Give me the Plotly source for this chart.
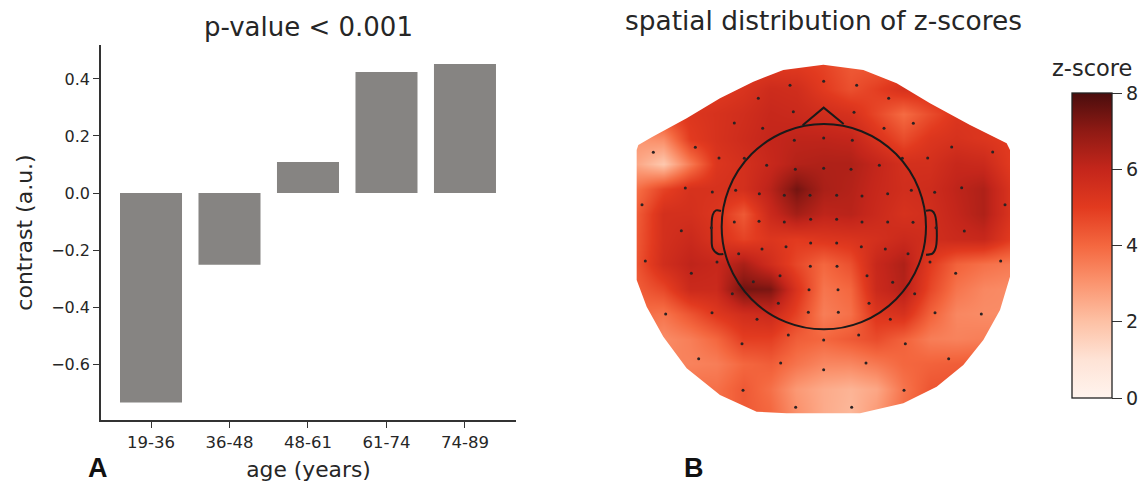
import plotly.graph_objects as go

W, H = 1142, 486

# ---- Panel A data
age_groups = ["19-36", "36-48", "48-61", "61-74", "74-89"]
contrast = [-0.735, -0.252, 0.109, 0.424, 0.452]
contrast_ticks = [-0.6, -0.4, -0.2, 0.0, 0.2, 0.4]

# ---- Panel B data (topomap plane units, y downwards)
grid_x = [50, 130, 210, 290, 370, 450, 530, 610, 690, 770, 850, 930, 1010, 1090, 1170]
grid_y = [40, 115, 190, 265, 340, 415, 490, 565, 640, 715, 790, 865, 940, 1015, 1090]
z_scores = [
    [5.0, 5.0, 5.0, 5.0, 5.0, 5.0, 5.0, 4.8, 4.3, 4.3, 4.5, 5.0, 5.0, 5.0, 5.0],
    [5.0, 5.0, 5.0, 5.0, 5.3, 5.7, 5.6, 5.0, 4.5, 4.9, 5.4, 5.4, 5.4, 5.4, 5.4],
    [4.2, 4.8, 5.2, 5.4, 5.6, 5.9, 5.8, 5.6, 5.4, 4.7, 3.9, 4.6, 5.2, 5.2, 5.2],
    [3.0, 3.2, 5.0, 5.4, 5.7, 6.0, 6.1, 6.1, 6.0, 5.3, 4.6, 5.2, 5.4, 5.2, 5.0],
    [2.6, 1.8, 3.6, 5.2, 5.5, 5.9, 6.3, 6.4, 6.4, 6.0, 5.5, 5.5, 5.9, 5.8, 5.0],
    [3.8, 4.8, 5.4, 5.4, 5.5, 6.2, 7.4, 6.5, 6.3, 5.9, 5.6, 5.7, 6.1, 6.4, 5.3],
    [4.2, 5.5, 5.5, 5.2, 4.3, 5.8, 6.6, 6.1, 6.2, 5.8, 5.4, 5.6, 6.0, 6.4, 5.3],
    [4.3, 5.5, 5.8, 5.3, 4.8, 5.2, 5.0, 5.2, 5.3, 5.5, 5.8, 5.6, 5.8, 5.9, 5.0],
    [4.4, 5.6, 6.1, 5.9, 6.5, 5.6, 4.7, 4.0, 4.5, 5.9, 6.4, 5.0, 4.1, 3.8, 3.6],
    [4.2, 4.7, 5.8, 5.8, 7.4, 7.3, 5.3, 3.7, 4.0, 5.8, 6.3, 4.7, 3.7, 3.3, 3.2],
    [3.9, 3.7, 4.4, 5.1, 5.6, 5.8, 4.8, 3.5, 3.8, 5.2, 5.4, 4.1, 3.3, 3.2, 3.2],
    [3.6, 3.2, 3.5, 4.0, 4.9, 4.9, 4.2, 4.0, 4.3, 4.6, 4.1, 3.5, 3.4, 3.5, 3.5],
    [3.6, 3.4, 3.4, 3.5, 4.0, 4.2, 3.7, 3.3, 3.3, 3.6, 4.0, 4.1, 4.2, 4.3, 4.3],
    [3.8, 3.8, 3.8, 3.8, 4.3, 3.8, 2.9, 2.5, 2.3, 2.6, 3.7, 4.4, 4.5, 4.5, 4.5],
    [3.8, 3.8, 3.8, 3.8, 4.3, 4.0, 3.1, 2.5, 2.2, 2.9, 3.9, 4.5, 4.5, 4.5, 4.5],
]
sensor_x = [510, 611, 710, 415, 806, 520, 702, 343, 428, 792, 880, 523, 611, 697, 226, 995, 100, 1118,
            297, 373, 847, 923, 440, 526, 611, 693, 778, 196, 277, 347, 418, 493, 570, 650, 726, 803,
            874, 944, 1025, 66, 1155, 343, 417, 493, 572, 650, 726, 803, 879, 184, 274, 948, 1033,
            426, 498, 572, 650, 724, 796, 356, 864, 76, 291, 930, 1142, 571, 651, 214, 1007, 480, 741,
            400, 818, 567, 654, 337, 884, 475, 747, 137, 276, 565, 655, 945, 1084, 411, 811, 505, 716,
            611, 366, 856, 236, 986, 482, 738, 611, 369, 852, 527, 695]
sensor_y = [106, 94, 106, 145, 145, 185, 187, 219, 235, 235, 220, 271, 264, 271, 292, 291, 307, 306,
            324, 325, 325, 324, 346, 358, 355, 358, 346, 414, 426, 421, 431, 436, 436, 436, 438, 431,
            421, 427, 413, 464, 464, 516, 514, 516, 508, 508, 516, 516, 517, 542, 533, 533, 543,
            597, 590, 579, 579, 590, 597, 611, 611, 633, 636, 636, 633, 649, 649, 670, 670, 677, 677,
            695, 697, 719, 719, 731, 731, 760, 760, 792, 788, 787, 787, 788, 792, 808, 808, 855, 855,
            870, 881, 881, 926, 926, 939, 939, 959, 1021, 1021, 1072, 1072]
outline_x = [55, 95, 200, 300, 400, 490, 610, 730, 830, 930, 1050, 1160, 1170, 1170, 1140, 1090, 1030,
             950, 850, 720, 500, 410, 300, 200, 130, 80, 50, 50]
outline_y = [285, 262, 205, 145, 95, 60, 44, 60, 100, 160, 225, 280, 300, 680, 780, 870, 945,
             1010, 1060, 1090, 1090, 1085, 1035, 955, 860, 770, 690, 300]
nose_x = [548, 611, 671]
nose_y = [226, 173, 222]
ear_left_x = [303, 288, 278, 275, 278, 295, 310]
ear_left_y = [483, 481, 495, 560, 595, 612, 612]
ear_right_x = [918, 935, 945, 948, 938, 918]
ear_right_y = [482, 482, 495, 590, 610, 614]
head_x0, head_x1, head_y0, head_y1 = 305, 918, 222, 838

reds = [[0, "#fff4ee"], [0.125, "#fee3d6"], [0.25, "#fdc1a5"], [0.375, "#fb9570"], [0.5, "#f4673f"],
        [0.625, "#e23a1f"], [0.75, "#c4261b"], [0.875, "#8f1a14"], [1, "#4a0d0d"]]
INK = "#262626"
FONT = "DejaVu Sans"

def fx(px):
    return px / W

def fy(px):
    return 1 - px / H

fig = go.Figure()
fig.add_trace(go.Bar(x=list(range(5)), y=contrast, width=0.79, marker=dict(color="#868482", line_width=0),
                     xaxis="x", yaxis="y", showlegend=False))
fig.add_trace(go.Heatmap(x=grid_x, y=grid_y, z=z_scores, zmin=0, zmax=8, zsmooth="best", colorscale=reds,
                         xaxis="x2", yaxis="y2", showlegend=False,
                         colorbar=dict(x=fx(1072), xanchor="left", y=fy(93), yanchor="top",
                                       len=305 / H, lenmode="fraction", thickness=40, thicknessmode="pixels",
                                       xpad=0, ypad=0, outlinecolor="#222", outlinewidth=1.3,
                                       tickvals=[0, 2, 4, 6, 8], ticks="outside", ticklen=10, tickwidth=1,
                                       tickcolor="#333", tickfont=dict(family=FONT, size=19, color=INK))))
line = dict(color="#1a1a1a", width=2)
fig.add_trace(go.Scatter(x=nose_x, y=nose_y, mode="lines", line=line, xaxis="x2", yaxis="y2", showlegend=False))
fig.add_trace(go.Scatter(x=ear_left_x, y=ear_left_y, mode="lines", line=dict(shape="spline", **line),
                         xaxis="x2", yaxis="y2", showlegend=False))
fig.add_trace(go.Scatter(x=ear_right_x, y=ear_right_y, mode="lines", line=dict(shape="spline", **line),
                         xaxis="x2", yaxis="y2", showlegend=False))
fig.add_trace(go.Scatter(x=sensor_x, y=sensor_y, mode="markers", marker=dict(color="#2b2222", size=3),
                         xaxis="x2", yaxis="y2", showlegend=False))

# white mask around the interpolated field
mask = "M 0 0 L 1200 0 L 1200 1110 L 0 1110 Z M " + " L ".join(f"{a} {b}" for a, b in zip(outline_x, outline_y)) + " Z"
shapes = [
    dict(type="path", path=mask, xref="x2", yref="y2", fillcolor="white", fillrule="evenodd",
         line_width=0, layer="above"),
    dict(type="circle", xref="x2", yref="y2", x0=head_x0, x1=head_x1, y0=head_y0, y1=head_y1,
         line=line, fillcolor="rgba(0,0,0,0)", layer="above"),
]

def label(text, x, y, size, family=FONT, color=INK):
    return dict(text=text, x=fx(x), y=fy(y), xref="paper", yref="paper", showarrow=False,
                xanchor="center", yanchor="middle", font=dict(family=family, size=size, color=color))

annotations = [
    label("p-value < 0.001", 308, 27, 26),
    label("spatial distribution of z-scores", 823, 20, 26.4),
    label("z-score", 1092, 68, 22.5),
    label("<b>A</b>", 98, 468, 27, "Liberation Sans", "#111"),
    label("<b>B</b>", 694, 468, 27, "Liberation Sans", "#111"),
]

fig.update_layout(
    width=W, height=H, autosize=False, margin=dict(l=0, r=0, t=0, b=0),
    paper_bgcolor="white", plot_bgcolor="white", showlegend=False,
    xaxis=dict(domain=[fx(101), fx(516)], range=[-0.637, 4.65], tickvals=list(range(5)), ticktext=age_groups,
               showgrid=False, zeroline=False, showline=True, linecolor="#333", linewidth=1.5, ticks="outside",
               ticklen=6, tickcolor="#333", tickfont=dict(family=FONT, size=16.5, color=INK),
               title=dict(text="age (years)", font=dict(family=FONT, size=21.8, color=INK), standoff=11)),
    yaxis=dict(domain=[fy(420), fy(45)], range=[-0.796, 0.519], tickvals=contrast_ticks,
               ticktext=["−0.6", "−0.4", "−0.2", "0.0", "0.2", "0.4"],
               showgrid=False, zeroline=False, showline=True, linecolor="#333", linewidth=1.5, ticks="outside",
               ticklen=6, tickcolor="#333", tickfont=dict(family=FONT, size=16, color=INK),
               title=dict(text="contrast (a.u.)", font=dict(family=FONT, size=22, color=INK), standoff=12)),
    xaxis2=dict(domain=[fx(620), fx(1020)], range=[0, 1200], visible=False),
    yaxis2=dict(domain=[fy(420), fy(50)], range=[1110, 0], visible=False),
    shapes=shapes, annotations=annotations,
)

fig.write_html("out.html", config={"displayModeBar": False},
               post_script="document.body.style.margin='0';")
